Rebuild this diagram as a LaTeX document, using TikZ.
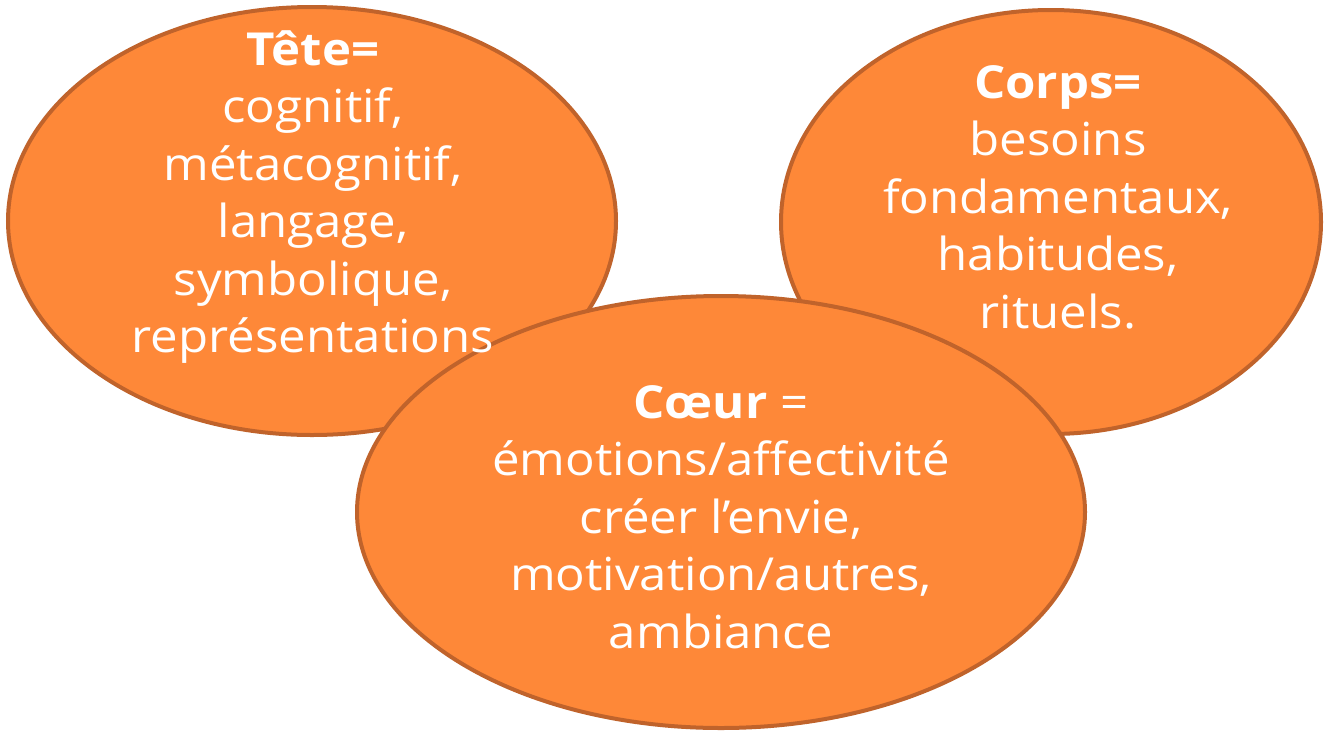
\documentclass[tikz,border=0pt]{standalone}
\usepackage{fontspec}
\setmainfont[FakeStretch=1.08]{Open Sans}
\usetikzlibrary{shapes.geometric}
\definecolor{orfill}{HTML}{FE8838}
\definecolor{ordraw}{HTML}{C0632B}
\tikzset{
  blob/.style={ellipse, draw=ordraw, fill=orfill, line width=4pt, inner sep=0pt},
  blobtext/.style={text=white, align=center, inner sep=0pt, font=\fontsize{45.5}{57.5}\selectfont}
}
\begin{document}
\begin{tikzpicture}[x=1pt,y=-1pt]
\useasboundingbox (0,0) rectangle (1324,731);
\node[blob, minimum width=608pt, minimum height=428pt] (tete) at (312,221) {};
\node[blob, minimum width=540pt, minimum height=424pt] (corps) at (1051,222) {};
\node[blob, minimum width=728pt, minimum height=432pt] (coeur) at (721,512) {};
\node[blobtext] (tetetxt) at (313,197) {\textbf{Tête=}\\cognitif,\\métacognitif,\\langage,\\symbolique,\\représentations};
\node[blobtext] (corpstxt) at (1058,197) {\textbf{Corps=}\\besoins\\fondamentaux,\\habitudes,\\rituels.};
\node[blobtext] (coeurtxt) at (721,517) {\textbf{Cœur} =\\émotions/affectivité\\créer l’envie,\\motivation/autres,\\ambiance};
\end{tikzpicture}
\end{document}
